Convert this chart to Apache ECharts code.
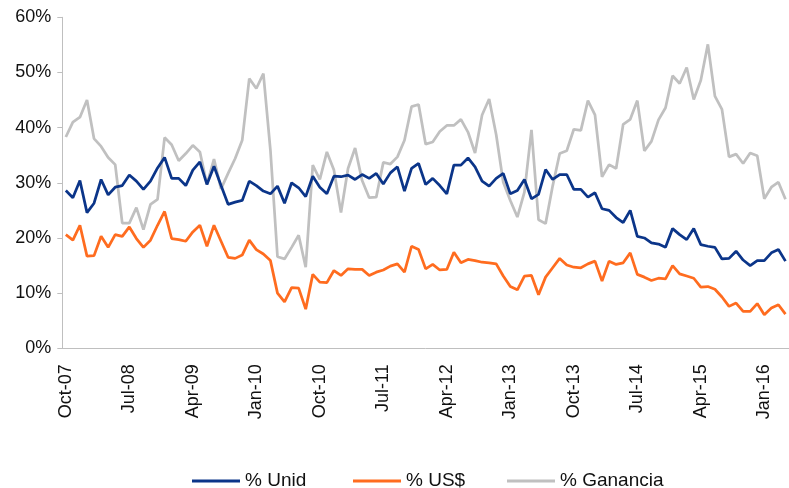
<!DOCTYPE html>
<html>
<head>
<meta charset="utf-8">
<script src="https://cdn.jsdelivr.net/npm/echarts@6/dist/echarts.min.js"></script>
<style>
  html, body { margin: 0; padding: 0; background: #fff; }
  #chart { width: 789px; height: 488px; }
</style>
</head>
<body>
<div id="chart"></div>
<script>
// meses Oct-07 .. Apr-16
var monthNames = ['Jan', 'Feb', 'Mar', 'Apr', 'May', 'Jun', 'Jul', 'Aug', 'Sep', 'Oct', 'Nov', 'Dec'];
var months = [];
for (var k = 0; k < 103; k++) {
  var m = (9 + k) % 12;
  var y = 7 + Math.floor((9 + k) / 12);
  months.push(monthNames[m] + '-' + (y < 10 ? '0' + y : '' + y));
}

var unid = [
  28.6, 27.3, 30.4, 24.6, 26.3, 30.6, 27.8, 29.2, 29.5, 31.4, 30.3, 28.8, 30.3, 32.7, 34.6, 30.8, 30.8,
  29.5, 32.3, 33.8, 29.7, 33.0, 29.5, 26.1, 26.5, 26.8, 30.3, 29.5, 28.5, 28.0, 29.4, 26.3, 30.0, 29.1,
  27.5, 31.2, 29.2, 28.0, 31.2, 31.1, 31.4, 30.6, 31.5, 30.8, 31.7, 29.8, 31.8, 32.9, 28.5, 32.6, 33.5,
  29.7, 30.8, 29.5, 28.0, 33.2, 33.2, 34.5, 32.9, 30.3, 29.4, 30.8, 31.7, 28.0, 28.6, 30.6, 27.1, 27.9,
  32.4, 30.6, 31.5, 31.5, 28.8, 28.8, 27.4, 28.2, 25.3, 25.0, 23.7, 22.8, 25.0, 20.3, 20.0, 19.1, 18.9,
  18.3, 21.7, 20.6, 19.7, 21.7, 18.8, 18.5, 18.3, 16.2, 16.3, 17.6, 16.0, 15.0, 15.9, 15.9, 17.3, 17.9, 15.8
];
var usd = [
  20.6, 19.6, 22.3, 16.7, 16.8, 20.3, 18.3, 20.6, 20.3, 22.0, 19.9, 18.3, 19.6, 22.3, 24.8, 19.9, 19.7,
  19.4, 21.1, 22.3, 18.5, 22.3, 19.4, 16.5, 16.3, 16.9, 19.6, 17.9, 17.1, 15.9, 10.0, 8.4, 11.0, 10.9,
  7.1, 13.4, 12.0, 11.9, 14.1, 13.2, 14.4, 14.3, 14.3, 13.2, 13.8, 14.2, 14.9, 15.3, 13.8, 18.5, 17.9,
  14.4, 15.2, 14.2, 14.3, 17.4, 15.5, 16.1, 15.9, 15.6, 15.5, 15.3, 13.1, 11.2, 10.6, 13.1, 13.2, 9.7,
  12.9, 14.6, 16.3, 15.1, 14.7, 14.6, 15.3, 15.8, 12.2, 15.8, 15.2, 15.5, 17.3, 13.4, 12.9, 12.3, 12.7,
  12.6, 15.0, 13.5, 13.1, 12.7, 11.1, 11.2, 10.7, 9.3, 7.6, 8.2, 6.7, 6.7, 8.1, 6.1, 7.3, 7.9, 6.2
];
var ganancia = [
  38.3, 41.0, 41.9, 45.0, 38.0, 36.6, 34.6, 33.3, 22.7, 22.7, 25.5, 21.5, 26.1, 27.0, 38.2, 36.9, 34.0,
  35.3, 36.8, 35.6, 29.7, 34.3, 28.9, 31.7, 34.4, 37.7, 48.9, 47.1, 49.8, 35.9, 16.6, 16.2, 18.3, 20.5,
  14.7, 33.2, 30.6, 35.6, 32.3, 24.6, 32.6, 36.3, 30.4, 27.3, 27.4, 33.7, 33.4, 34.7, 37.7, 43.8, 44.2,
  37.0, 37.4, 39.3, 40.4, 40.4, 41.5, 39.2, 35.4, 42.3, 45.2, 38.7, 30.1, 26.8, 23.8, 28.3, 39.6, 23.3,
  22.6, 29.4, 35.3, 35.8, 39.7, 39.5, 44.9, 42.3, 31.1, 33.3, 32.6, 40.6, 41.5, 44.9, 35.8, 37.5, 41.4,
  43.6, 49.4, 48.0, 50.9, 45.1, 48.6, 55.1, 45.7, 43.3, 34.7, 35.2, 33.5, 35.4, 34.9, 27.1, 29.2, 30.1, 27.0
];

var font = '"Liberation Sans", Arial, Helvetica, sans-serif';
var axisColor = '#BFBFBF';

var chart = echarts.init(document.getElementById('chart'));

function legendItem(name, left) {
  return {
    data: [name],
    left: left,
    top: 471.5,
    padding: 0,
    icon: 'rect',
    itemWidth: 48,
    itemHeight: 3,
    itemGap: 0,
    textStyle: { fontFamily: font, fontSize: 19, color: '#111', padding: [15, 0, 0, 0] }
  };
}

var option = {
  animation: false,
  legend: [
    legendItem('% Unid', 192),
    legendItem('% US$', 353),
    legendItem('% Ganancia', 507)
  ],
  grid: {
    left: 62.3,
    right: -6.7,
    top: 17.3,
    bottom: 139.7
  },
  xAxis: {
    type: 'category',
    data: months,
    boundaryGap: true,
    axisLine: { lineStyle: { color: axisColor, width: 1 } },
    axisTick: { interval: 8, length: 5, lineStyle: { color: axisColor } },
    axisLabel: {
      interval: 8,
      rotate: 90,
      margin: 16,
      fontFamily: font,
      fontSize: 18,
      color: '#111'
    },
    splitLine: { show: false }
  },
  yAxis: {
    type: 'value',
    min: 0,
    max: 60,
    interval: 10,
    axisLine: { show: true, lineStyle: { color: axisColor, width: 1 } },
    axisTick: { show: true, length: 5, lineStyle: { color: axisColor } },
    axisLabel: {
      formatter: '{value}%',
      margin: 11,
      fontFamily: font,
      fontSize: 18,
      color: '#111'
    },
    splitLine: { show: false }
  },
  series: [
    {
      name: '% Unid',
      type: 'line',
      data: unid,
      symbol: 'none',
      color: '#0B3589',
      lineStyle: { width: 2.75, color: '#0B3589' },
      z: 3
    },
    {
      name: '% US$',
      type: 'line',
      data: usd,
      symbol: 'none',
      color: '#FF6C1F',
      lineStyle: { width: 2.75, color: '#FF6C1F' },
      z: 2
    },
    {
      name: '% Ganancia',
      type: 'line',
      data: ganancia,
      symbol: 'none',
      color: '#C0C0C0',
      lineStyle: { width: 2.75, color: '#C0C0C0' },
      z: 1
    }
  ]
};

chart.setOption(option);
</script>
</body>
</html>
